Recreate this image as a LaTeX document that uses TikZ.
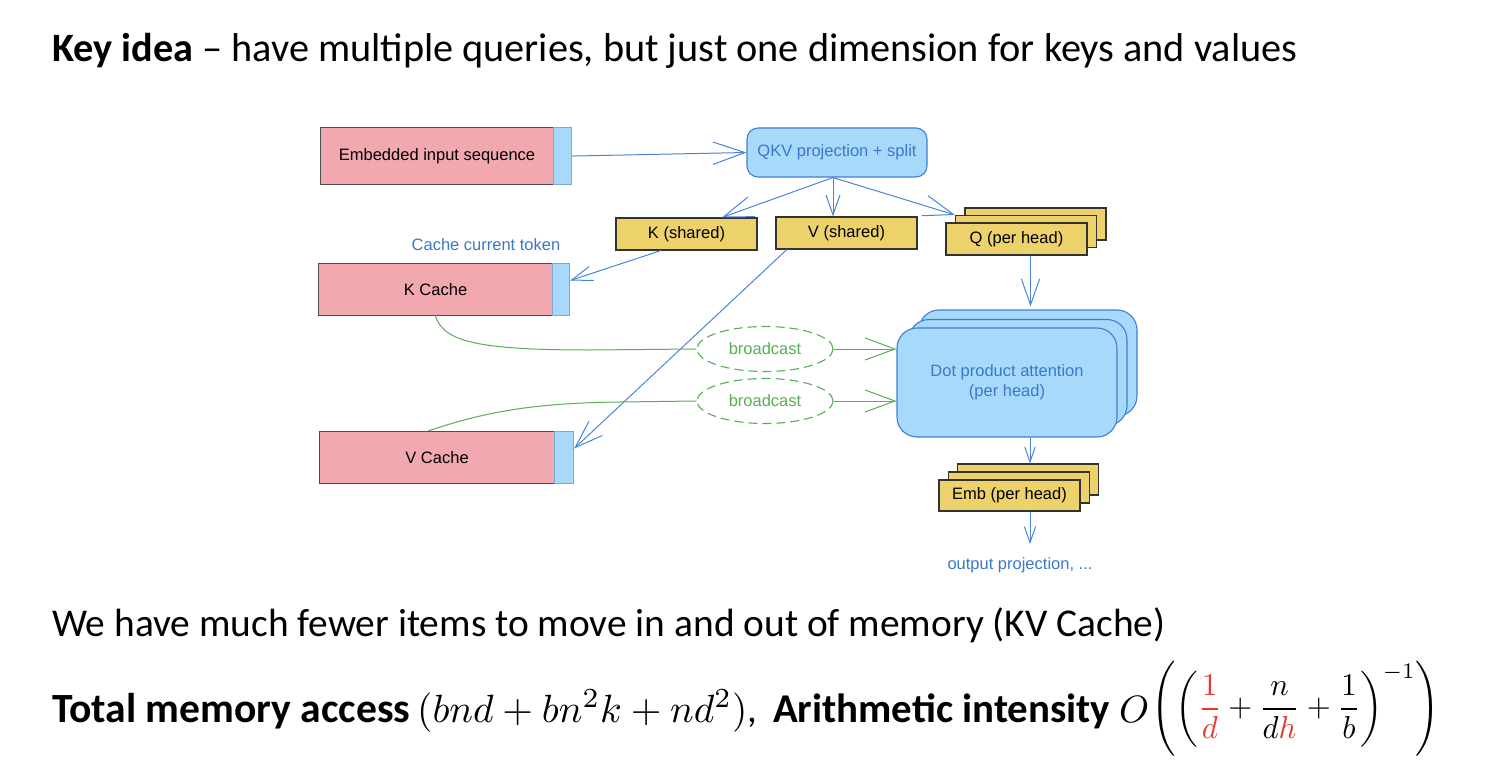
\documentclass[tikz,border=0pt]{standalone}
\usepackage{amsmath}
\usepackage{graphicx}
\usepackage{fontspec}
\setmainfont{Carlito}
\newfontfamily\diafont{Liberation Sans}
\usetikzlibrary{arrows.meta,shapes.geometric,calc}
\definecolor{pinkf}{HTML}{F2A8AF}
\definecolor{boxb}{HTML}{4D4D4D}
\definecolor{stripf}{HTML}{A9D9FA}
\definecolor{stripb}{HTML}{7FA9D3}
\definecolor{bluef}{HTML}{A7D9FA}
\definecolor{blueb}{HTML}{3F7FCF}
\definecolor{bluet}{HTML}{3B78CC}
\definecolor{arrb}{HTML}{4A86D6}
\definecolor{yelf}{HTML}{EDD16B}
\definecolor{gr}{HTML}{5AAE54}
\definecolor{redm}{HTML}{E8382B}
\tikzset{
  pinkbox/.style={draw=boxb, fill=pinkf, line width=1.1pt, anchor=north west, inner sep=0pt, font=\diafont\fontsize{16.5}{19}\selectfont},
  stripbox/.style={draw=stripb, fill=stripf, line width=1.1pt, anchor=north west, inner sep=0pt, minimum width=18pt},
  yelbox/.style={draw=black!80, fill=yelf, line width=1.1pt, minimum width=141pt, minimum height=32pt, inner sep=0pt, font=\diafont\fontsize{16.5}{19}\selectfont},
  bluebox/.style={draw=blueb, fill=bluef, line width=1.1pt, inner sep=0pt, text=bluet, font=\diafont\fontsize{16.5}{19}\selectfont},
  bcast/.style={ellipse, draw=gr, line width=1.1pt, dash pattern=on 9pt off 5pt, minimum width=136pt, minimum height=45pt, text=gr, font=\diafont\fontsize{16.5}{19}\selectfont},
  bluelbl/.style={text=bluet, font=\diafont\fontsize{16.5}{19}\selectfont, inner sep=0pt},
  txt/.style={anchor=base west, inner sep=0pt},
  barr/.style={draw=arrb, line width=1pt, -{Straight Barb[length=#1pt, width=0.7*#1pt]}},
  garr/.style={draw=gr, line width=1pt, -{Straight Barb[length=30pt, width=22pt]}},
  gline/.style={draw=gr, line width=1pt},
}
\begin{document}
\begin{tikzpicture}[x=1pt,y=-1pt]
\useasboundingbox[fill=white] (0,0) rectangle (1498,770);

% heading and bottom text
\node[txt] (title) at (52,62) {\resizebox{1245pt}{!}{\textbf{Key idea} – have multiple queries, but just one dimension for keys and values}};
\node[txt] (line2) at (52,636) {\resizebox{1113pt}{!}{We have much fewer items to move in and out of memory (KV Cache)}};
\node[txt] (tma) at (52,722) {\resizebox{358pt}{!}{\textbf{Total memory access}}};
\node[txt] (tmf) at (417,722) {\resizebox{340pt}{!}{$(bnd+bn^2k+nd^2)$,}};
\node[txt] (ai) at (773,722) {\resizebox{337pt}{!}{\textbf{Arithmetic intensity}}};
\node[txt] (aio) at (1119,722) {\resizebox{!}{26pt}{$O$}};
\node[anchor=west, inner sep=0pt] (aif) at (1151,709) {\resizebox*{289pt}{95pt}{$\displaystyle\left(\left({\color{redm}\frac{1}{d}}+\frac{n}{d{\color{redm}h}}+\frac{1}{b}\right)^{-1}\right)$}};

% left boxes
\node[pinkbox, minimum width=233pt, minimum height=57pt] (emb) at (320,127) {Embedded input sequence};
\node[stripbox, minimum height=57pt] (embs) at (553,127) {};
\node[pinkbox, minimum width=234pt, minimum height=52pt] (kc) at (318,263) {K Cache};
\node[stripbox, minimum width=17pt, minimum height=52pt] (kcs) at (552,263) {};
\node[pinkbox, minimum width=235pt, minimum height=52pt] (vc) at (319,431) {V Cache};
\node[stripbox, minimum width=19pt, minimum height=52pt] (vcs) at (554,431) {};
\node[bluelbl] (cct) at (486,245) {Cache current token};

% QKV
\node[bluebox, rounded corners=11pt, minimum width=180pt, minimum height=49pt] (qkv) at (837,152.5) {QKV projection + split};

% K, V shared
\node[yelbox] (ks) at (686.5,234) {K (shared)};
\node[yelbox] (vs) at (846.5,233) {V (shared)};

% Q stack
\node[yelbox] (qb) at (1035.5,224) {};
\node[yelbox] (qm) at (1026,231.5) {};
\node[yelbox] (q) at (1016.5,239) {Q (per head)};

% Dot product stack
\node[bluebox, rounded corners=20pt, minimum width=218pt, minimum height=106pt] (dpb) at (1028,363) {};
\node[bluebox, rounded corners=20pt, minimum width=218pt, minimum height=106pt] (dpm) at (1018,372.5) {};
\node[bluebox, rounded corners=20pt, minimum width=220pt, minimum height=109pt, align=center] (dp) at (1007,382.5) {Dot product attention\\[1pt](per head)};

% Emb stack
\node[yelbox, minimum height=31pt] (eb) at (1028,479.5) {};
\node[yelbox, minimum height=31pt] (em) at (1019,487.5) {};
\node[yelbox, minimum height=31pt] (e) at (1009.5,495.5) {Emb (per head)};

\node[bluelbl] (out) at (1020,565) {output projection, ...};

% broadcast ellipses
\node[bcast] (b1) at (765,349) {broadcast};
\node[bcast] (b2) at (765,401) {broadcast};

% blue arrows
\draw[barr=32] (embs.east) -- (qkv.west);
\coordinate (qkvo) at ($(qkv.south)+(-4,0)$);
\draw[barr=30] (qkvo) -- ($(ks.north east)!0.25!(ks.north west)$);
\draw[barr=20] (qkvo) -- (qkvo |- vs.north);
\draw[barr=30] (qkvo) -- (qm.north west);
\draw[barr=21] ($(ks.south west)!0.32!(ks.south east)$) -- ($(kcs.east)+(0,-9)$);
\draw[barr=28] ($(vs.south west)!0.08!(vs.south east)$) -- ($(vcs.east)+(0,-9)$);
\coordinate (qo) at ($(q.south)+(14,0)$);
\draw[barr=26] (qo) -- ($(qo |- dpb.north)+(0,-3)$);
\coordinate (dpo) at ($(dp.south)+(23,0)$);
\draw[barr=15] (dpo) -- (dpo |- eb.north);
\coordinate (eo) at ($(e.south)+(20.5,0)$);
\draw[barr=16] (eo) -- ($(eo |- out.north)+(0,-13)$);

% green connectors
\coordinate (kco) at (435,315);
\draw[gline] (kco) .. controls (443,340) and (470,350) .. (590,350) -- (b1.west);
\coordinate (vco) at (428,431);
\draw[gline] (vco) .. controls (490,410) and (540,403) .. (620,402) -- (b2.west);
\draw[garr] (b1.east) -- (b1.east -| dp.west);
\draw[garr] (b2.east) -- (b2.east -| dp.west);
\end{tikzpicture}
\end{document}
